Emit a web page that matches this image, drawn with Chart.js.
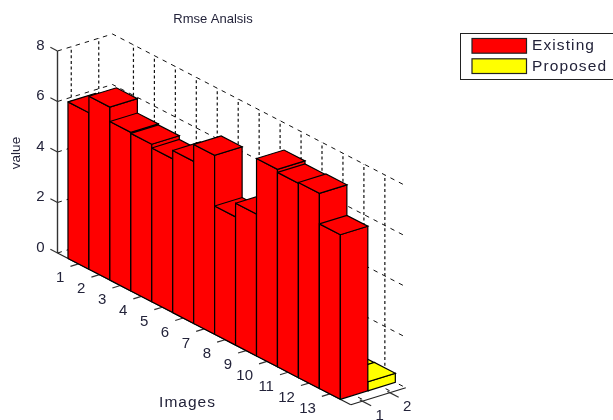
<!DOCTYPE html>
<html><head><meta charset="utf-8">
<style>html,body{margin:0;padding:0;background:#fff;overflow:hidden}canvas{display:block}</style>
<script src="https://cdn.jsdelivr.net/npm/chart.js@4"></script>
</head><body><canvas id="c" width="613" height="420"></canvas>
<script>
const images = ['1','2','3','4','5','6','7','8','9','10','11','12','13'];
const seriesNames = ['Existing','Proposed'];
const existing = [6.2,6.85,6.28,6.24,6.09,6.42,7.09,5.08,5.62,7.82,7.7,7.73,6.52];
const proposed = [0.35,0.35,0.35,0.35,0.35,0.35,0.35,0.35,0.35,0.35,0.35,0.35,0.36];
const valueTicks = [0,2,4,6,8];
const seriesColors = ['#ff0000','#ffff00'];

// oblique view of the 3-D axes box, expressed in the chart's own x/y scale units
const view = {ox:57.5, oy:253, ix:20.95, iy:10.84, sx:27.5, sy:-8.5, z:25.25};
const I_MAX = 14, S_MIN = 0.5, S_MAX = 2.5, Z_MAX = 8;
function P(i,s,z){
  return {x:view.ox+view.ix*i+view.sx*(s-S_MIN), y:view.oy+view.iy*i+view.sy*(s-S_MIN)-view.z*z};
}
const layers = [];
function path(pts,o){
  layers.push(Object.assign({type:'scatter',data:pts,showLine:true,pointRadius:0,tension:0,
    fill:false,borderColor:'#000',borderWidth:1.2,borderCapStyle:'butt',borderJoinStyle:'miter',clip:false},o||{}));
}
const slantDash={borderDash:[4.5,5],borderColor:'#111',borderWidth:1};
const upDash={borderDash:[3,2.6],borderColor:'#111',borderWidth:1.2};
// grid walls
valueTicks.forEach(z=>path([P(0,S_MIN,z),P(0,S_MAX,z),P(I_MAX,S_MAX,z)],slantDash));
[1,2].forEach(s=>path([P(0,s,0),P(0,s,Z_MAX)],upDash));
images.forEach((_,k)=>path([P(k+1,S_MAX,0),P(k+1,S_MAX,Z_MAX)],upDash));
// floor grid
[1,2].forEach(s=>path([P(0,s,0),P(I_MAX,s,0)],slantDash));
images.forEach((_,k)=>path([P(k+1,S_MIN,0),P(k+1,S_MAX,0)],slantDash));
// axes
path([P(0,S_MIN,0),P(0,S_MIN,Z_MAX)],{borderColor:'#333',borderWidth:1.4});
path([P(0,S_MIN,0),P(I_MAX,S_MIN,0)],{borderColor:'#222'});
path([P(I_MAX,S_MIN,0),P(I_MAX,S_MAX,0)],{borderColor:'#222'});
valueTicks.forEach(z=>path([P(0,S_MIN,z),P(-0.34,S_MIN,z)],{borderColor:'#333'}));
images.forEach((_,k)=>path([P(k+1,S_MIN,0),P(k+1,S_MIN-0.29,0)],{borderColor:'#333'}));
[1,2].forEach(s=>path([P(I_MAX-0.12,s-0.08,0),P(I_MAX+0.42,s-0.08,0)],{borderColor:'#333'}));
// bars, back to front
function face(a,b,c,d,col,name){
  path([a,b,c,d,a],{fill:'shape',backgroundColor:col,label:name});
}
images.forEach((_,k)=>{
  const i=k+1;
  [[proposed,1],[existing,0]].forEach(([vals,j])=>{
    const z=vals[k], s0=j+0.5, s1=j+1.5, i0=i-0.5, i1=i+0.5, col=seriesColors[j], n=seriesNames[j];
    face(P(i0,s0,0),P(i1,s0,0),P(i1,s0,z),P(i0,s0,z),col,n);
    face(P(i1,s0,0),P(i1,s1,0),P(i1,s1,z),P(i1,s0,z),col,n);
    face(P(i0,s0,z),P(i1,s0,z),P(i1,s1,z),P(i0,s1,z),col,n);
  });
});

const textFont='"Liberation Sans",Arial,sans-serif';
const textPlugin={id:'labels3d',afterDatasetsDraw(chart){
  const {ctx,scales:{x,y}}=chart;
  const T=(t,px,py,size,al,sp)=>{
    ctx.font=size+'px '+textFont;ctx.textAlign=al||'center';ctx.textBaseline='middle';
    ctx.letterSpacing=(sp||0)+'px';ctx.fillStyle='#23233a';
    ctx.fillText(t,x.getPixelForValue(px),y.getPixelForValue(py));
  };
  ctx.save();
  T('Rmse Analsis',213,19,13,'center',0);
  T('Images',187.5,403,15.5,'center',1);
  valueTicks.forEach(z=>{const p=P(0,S_MIN,z);T(String(z),p.x-17,p.y-5.5,15);});
  images.forEach((l,k)=>{const p=P(k+1,S_MIN,0);T(l,p.x-14,p.y+14.5,15,'right');});
  [1,2].forEach(s=>{const p=P(I_MAX,s,0);T(String(s),p.x+15,p.y+15,15);});
  ctx.save();ctx.translate(x.getPixelForValue(16),y.getPixelForValue(153));ctx.rotate(-Math.PI/2);
  ctx.font='13.5px '+textFont;ctx.textAlign='center';ctx.textBaseline='middle';ctx.fillStyle='#23233a';ctx.letterSpacing='0px';ctx.fillText('value',0,0);ctx.restore();
  // legend
  ctx.strokeStyle='#222';ctx.lineWidth=1;ctx.strokeRect(460.5,33.5,170,46);
  seriesNames.forEach((n,j)=>{
    ctx.fillStyle=seriesColors[j];ctx.fillRect(472,38.5+j*20.3,54.5,14.7);
    ctx.strokeStyle='#222';ctx.lineWidth=1.2;ctx.strokeRect(472,38.5+j*20.3,54.5,14.7);
    T(n,532,46+j*20.3,15.5,'left',1.1);
  });
  ctx.restore();
}};
new Chart(document.getElementById('c'),{
  type:'scatter',
  data:{datasets:layers.slice().reverse()},
  options:{responsive:false,animation:false,layout:{padding:0},
    plugins:{legend:{display:false},title:{display:false},tooltip:{enabled:false}},
    scales:{x:{type:'linear',min:0,max:613,display:false},y:{type:'linear',min:0,max:420,reverse:true,display:false}}},
  plugins:[textPlugin]
});
</script></body></html>
